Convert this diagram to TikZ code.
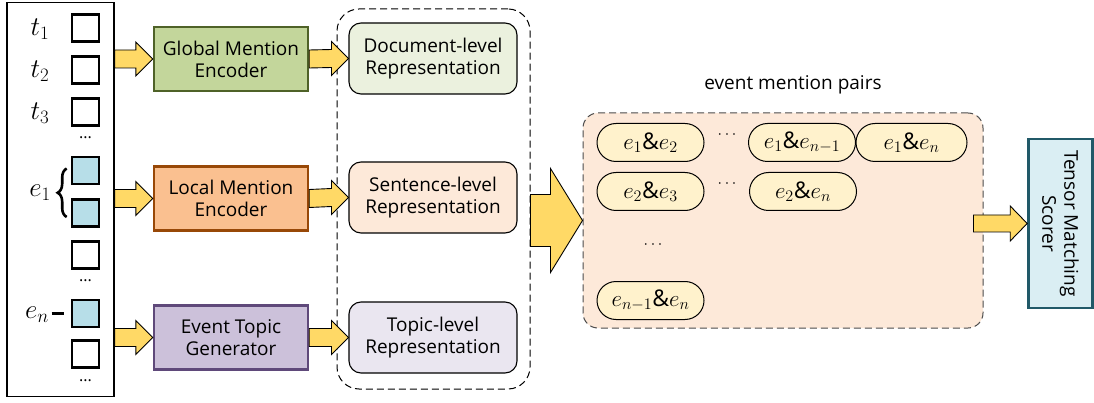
\RequirePackage{fix-cm}
\documentclass[tikz,border=0pt]{standalone}
\usepackage{fontspec}
\setmainfont{Open Sans}
\usetikzlibrary{calc,decorations.pathreplacing}
\definecolor{encgreen}{HTML}{C3D69B}
\definecolor{encgreend}{HTML}{4F6228}
\definecolor{encorange}{HTML}{FAC090}
\definecolor{encoranged}{HTML}{984807}
\definecolor{encpurple}{HTML}{CCC1DA}
\definecolor{encpurpled}{HTML}{5F497A}
\definecolor{repgreen}{HTML}{EBF1DE}
\definecolor{reppeach}{HTML}{FDE9D9}
\definecolor{reppurple}{HTML}{EAE6F0}
\definecolor{pairfill}{HTML}{FFF2CC}
\definecolor{arrowyellow}{HTML}{FFD966}
\definecolor{tokblue}{HTML}{B7DEE8}
\definecolor{scorefill}{HTML}{DAEEF3}
\definecolor{scoredraw}{HTML}{215968}
% fat yellow arrow: tail, tip, shaft half width, head half width, head length
\newcommand{\fatarrow}[5]{%
  \draw[blockarr] ($(#1)+(0,#3)$) -- ($(#2)+(-#5,#3)$) -- ($(#2)+(-#5,#4)$) -- (#2)
    -- ($(#2)+(-#5,-#4)$) -- ($(#2)+(-#5,-#3)$) -- ($(#1)+(0,-#3)$) -- cycle;}
\begin{document}
\begin{tikzpicture}[x=1pt,y=-1pt,every node/.style={font=\fontsize{19}{22}\selectfont},line width=1pt]
\tikzset{tok/.style={draw,line width=2.6pt,minimum size=27pt,inner sep=0pt},
  evtok/.style={tok,fill=tokblue},
  lab/.style={font=\fontsize{27}{27}\selectfont,inner sep=0pt},
  module/.style={draw,line width=2.4pt,minimum width=154pt,minimum height=64pt,align=center,inner sep=1pt},
  rep/.style={draw,line width=1.1pt,rounded corners=12pt,minimum width=168pt,minimum height=71pt,align=center,inner sep=1pt},
  pair/.style={draw,line width=1pt,fill=pairfill,rounded corners=19pt,minimum width=107pt,minimum height=38pt,inner sep=1pt,font=\fontsize{23}{23}\selectfont},
  vdots/.style={inner sep=0pt,font=\fontsize{16}{16}\selectfont},
  grpdash/.style={dash pattern=on 7pt off 4pt},
  blockarr/.style={draw=black,fill=arrowyellow,line width=0.9pt,line join=miter}}
\useasboundingbox (0,0) rectangle (1094,403);
% input sequence
\node[draw,line width=1.2pt,minimum width=107pt,minimum height=394pt,inner sep=0pt] (seq) at (60.5,199.5) {};
\node[tok] (tok1) at (85.5,28) {};
\node[tok] (tok2) at (85.5,70) {};
\node[tok] (tok3) at (85.5,112) {};
\node[vdots] (dots1) at (85.5,138) {...};
\node[evtok] (e1a) at (85.5,170.5) {};
\node[evtok] (e1b) at (85.5,213) {};
\node[tok] (tok4) at (85.5,255) {};
\node[vdots] (dots2) at (85.5,281) {...};
\node[evtok] (en) at (85.5,313.5) {};
\node[tok] (tok5) at (85.5,354) {};
\node[vdots] (dots3) at (85.5,381) {...};
\node[lab] (lt1) at (40,29) {$t_1$};
\node[lab] (lt2) at (40,71) {$t_2$};
\node[lab] (lt3) at (40,113) {$t_3$};
\node[lab] (le1) at (40,193) {$e_1$};
\node[lab] (len) at (37,315) {$e_n$};
\draw[line width=2.6pt,decorate,decoration={brace,amplitude=9pt}]
  ($(e1b.west)+(-4,4)$) -- ($(e1a.west)+(-4,-2)$);
\draw[line width=3pt] ($(en.west)+(-19,0)$) -- ($(en.west)+(-7,0)$);
% encoders
\node[module,fill=encgreen,draw=encgreend] (genc) at (231,59) {Global Mention\\Encoder};
\node[module,fill=encorange,draw=encoranged] (lenc) at (231,198.5) {Local Mention\\Encoder};
\node[module,fill=encpurple,draw=encpurpled] (tgen) at (231,337.5) {Event Topic\\Generator};
% representations
\node[draw,grpdash,line width=1pt,rounded corners=22pt,minimum width=193pt,minimum height=380pt] (repgroup) at (433.5,199) {};
\node[rep,fill=repgreen] (docrep) at (433,58.5) {Document-level\\Representation};
\node[rep,fill=reppeach] (sentrep) at (433,197.5) {Sentence-level\\Representation};
\node[rep,fill=reppurple] (toprep) at (433,337.5) {Topic-level\\Representation};
% event mention pairs
\node[draw=black!70,grpdash,line width=1pt,fill=reppeach,rounded corners=15pt,minimum width=400pt,minimum height=215pt] (pairs) at (783,220.5) {};
\node (pairtitle) at (793,85) {event mention pairs};
\node[pair] (p12) at (650.5,142.5) {$e_1\mathbf{\&}e_2$};
\node[vdots] (p1dots) at (727,135) {$\cdots$};
\node[pair] (p1n1) at (802,142.5) {$e_1\mathbf{\&}e_{n-1}$};
\node[pair,minimum width=111pt] (p1n) at (911.5,142.5) {$e_1\mathbf{\&}e_n$};
\node[pair] (p23) at (650.5,191.5) {$e_2\mathbf{\&}e_3$};
\node[vdots] (p2dots) at (727,184) {$\cdots$};
\node[pair] (p2n) at (803,191.5) {$e_2\mathbf{\&}e_n$};
\node[vdots] (pvdots) at (653,245) {$\cdots$};
\node[pair] (pn1n) at (650.5,300.5) {$e_{n-1}\mathbf{\&}e_n$};
% scorer
\node[draw=scoredraw,fill=scorefill,line width=2.6pt,rotate=-90,minimum width=169pt,minimum height=64pt,align=center,inner sep=1pt] (scorer) at (1060.5,223.5) {Tensor Matching\\Scorer};
% fat arrows
\coordinate (a1) at (seq.east |- genc.west);
\coordinate (a2) at (seq.east |- lenc.west);
\coordinate (a3) at (seq.east |- tgen.west);
\fatarrow{a1}{genc.west}{9}{17}{17}
\fatarrow{a2}{lenc.west}{9}{17}{17}
\fatarrow{a3}{tgen.west}{9}{17}{17}
\fatarrow{genc.east}{docrep.west}{9}{17}{17}
\fatarrow{lenc.east}{sentrep.west}{9}{17}{17}
\fatarrow{tgen.east}{toprep.west}{9}{17}{17}
\coordinate (a4) at (repgroup.east |- pairs.west);
\fatarrow{a4}{pairs.west}{26}{52}{32}
\coordinate (a5) at ($(pairs.east)+(-10,3)$);
\coordinate (a6) at (scorer.south |- a5);
\fatarrow{a5}{a6}{8.5}{17.5}{17}
\end{tikzpicture}
\end{document}
